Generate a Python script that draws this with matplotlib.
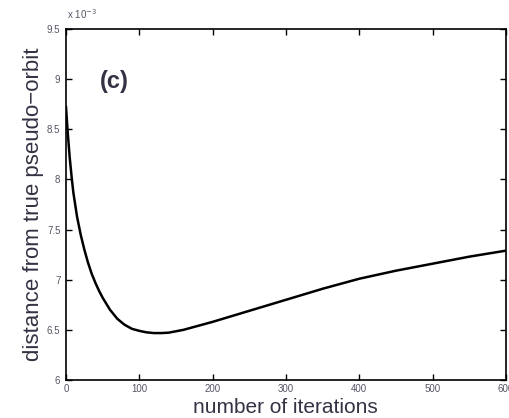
import numpy as np
import matplotlib
matplotlib.use("Agg")
import matplotlib.pyplot as plt

# distance values, in units of 1e-3
iterations = [0, 2, 5, 8, 10, 15, 20, 25, 30, 35, 40, 45, 50, 55, 60, 70, 80, 90,
              100, 110, 120, 130, 140, 160, 180, 200, 250, 300, 350, 400, 450, 500, 550, 600]
distance = [8.72, 8.50, 8.22, 8.00, 7.87, 7.63, 7.45, 7.30, 7.17, 7.06, 6.97, 6.89, 6.82,
            6.76, 6.70, 6.61, 6.55, 6.51, 6.49, 6.475, 6.468, 6.468, 6.472, 6.50, 6.54,
            6.58, 6.69, 6.80, 6.91, 7.01, 7.09, 7.16, 7.23, 7.29]

xticks = [0, 100, 200, 300, 400, 500, 600]
yticks = [6, 6.5, 7, 7.5, 8, 8.5, 9, 9.5]

plt.rcParams['font.family'] = ['Liberation Sans', 'DejaVu Sans']

fig = plt.figure(figsize=(5.09, 4.18), dpi=100)
ax = fig.add_axes([0.1297, 0.0909, 0.8644, 0.8397])

ax.plot(iterations, distance, color='black', lw=1.8)

ax.set_xlim(0, 600)
ax.set_ylim(6, 9.5)
ax.set_xticks(xticks)
ax.set_yticks(yticks)
ax.set_xticklabels([str(t) for t in xticks])
ax.set_yticklabels([f"{t:g}" for t in yticks])
ax.tick_params(direction='in', top=True, right=True, length=4, width=1,
               labelsize=7, labelcolor='#555566', pad=4)
ax.tick_params(axis='x', pad=3)
for s in ax.spines.values():
    s.set_linewidth(1.2)

# x label placed by hand, it sits right at the bottom edge in the original
fig.text(0.56, 0.012, 'number of iterations', fontsize=15, color='#333344',
         ha='center', va='baseline')
ax.set_ylabel('distance from true pseudo\u2212orbit', fontsize=16, color='#333344', labelpad=2)

ax.text(0.077, 0.85, '(c)', transform=ax.transAxes, fontsize=17, fontweight='bold',
        color='#333344', va='center')
fig.text(0.131, 0.955, r'x 10$^{-3}$', fontsize=7, color='#555566')

fig.savefig('out.png', dpi=100)
